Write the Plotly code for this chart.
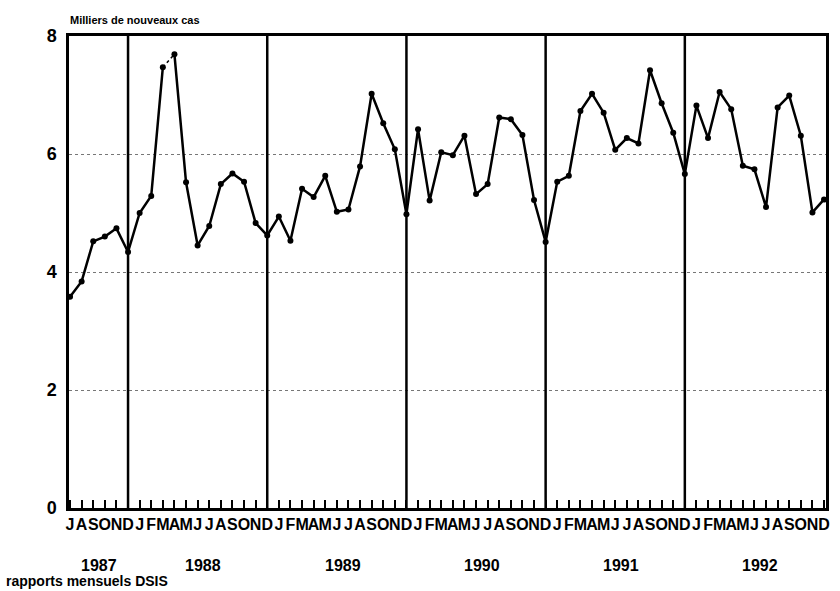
import plotly.graph_objects as go

# Nouveaux cas mensuels (milliers), juillet 1987 - decembre 1992
month_letters = ["J", "A", "S", "O", "N", "D"] + \
    ["J", "F", "M", "A", "M", "J", "J", "A", "S", "O", "N", "D"] * 5
years = [1987] * 6 + [1988] * 12 + [1989] * 12 + [1990] * 12 + [1991] * 12 + [1992] * 12

cases = [
    3.58, 3.84, 4.52, 4.60, 4.74, 4.34,                                   # 1987
    5.00, 5.29, 7.47, 7.69, 5.52, 4.45, 4.78, 5.49, 5.67, 5.53, 4.83, 4.62,  # 1988
    4.94, 4.53, 5.41, 5.27, 5.63, 5.02, 5.06, 5.79, 7.02, 6.52, 6.08, 4.98,  # 1989
    6.42, 5.21, 6.03, 5.98, 6.31, 5.32, 5.49, 6.62, 6.59, 6.32, 5.22, 4.51,  # 1990
    5.53, 5.63, 6.73, 7.02, 6.70, 6.07, 6.27, 6.18, 7.42, 6.86, 6.36, 5.66,  # 1991
    6.82, 6.27, 7.05, 6.76, 5.80, 5.74, 5.10, 6.79, 6.99, 6.31, 5.01, 5.23,  # 1992
]

year_labels = ["1987", "1988", "1989", "1990", "1991", "1992"]
y_ticks = [0, 2, 4, 6, 8]

idx = list(range(len(cases)))
dashed_from = 8  # segment mars-avril 1988 en pointille

# zone du graphe en pixels (pour placer les textes hors du graphe)
L, T, W, H = 69, 36, 757, 472


def px_to_paper(x, y):
    return (x - L) / W, (T + H - y) / H


fig = go.Figure()

line_style = dict(color="black", width=2.5)
marker_style = dict(color="black", size=6, symbol="circle")

fig.add_trace(go.Scatter(x=idx[:dashed_from + 1], y=cases[:dashed_from + 1],
                         mode="lines+markers", line=line_style, marker=marker_style,
                         showlegend=False))
fig.add_trace(go.Scatter(x=idx[dashed_from:dashed_from + 2], y=cases[dashed_from:dashed_from + 2],
                         mode="lines", line=dict(color="black", width=1.5, dash="dot"),
                         showlegend=False))
fig.add_trace(go.Scatter(x=idx[dashed_from + 1:], y=cases[dashed_from + 1:],
                         mode="lines+markers", line=line_style, marker=marker_style,
                         showlegend=False))

# traits verticaux en fin d'annee (decembre)
for i, m in enumerate(month_letters):
    if m == "D" and i < len(cases) - 1:
        fig.add_shape(type="line", x0=i, x1=i, y0=0, y1=1, xref="x", yref="paper",
                      line=dict(color="black", width=2.5))

# annees sous l'axe
_, y_year = px_to_paper(0, 565)
for yl in year_labels:
    pos = [i for i, y in enumerate(years) if str(y) == yl]
    fig.add_annotation(x=sum(pos) / len(pos), y=y_year, xref="x", yref="paper",
                       text=yl, showarrow=False, yanchor="middle",
                       font=dict(family="Liberation Sans", size=16, color="black", weight="bold"))

tx, ty = px_to_paper(68, 20)
fig.add_annotation(x=tx, y=ty, xref="paper", yref="paper", text="Milliers de nouveaux cas",
                   showarrow=False, xanchor="left", yanchor="middle",
                   font=dict(family="Liberation Sans", size=11, color="black", weight="bold"))
sx, sy = px_to_paper(4, 581)
fig.add_annotation(x=sx, y=sy, xref="paper", yref="paper", text="rapports mensuels DSIS",
                   showarrow=False, xanchor="left", yanchor="middle",
                   font=dict(family="Liberation Sans", size=14, color="black", weight="bold"))

fig.update_xaxes(
    range=[-0.09, 65.17],
    tickmode="array", tickvals=idx, ticktext=month_letters,
    ticks="inside", ticklen=8, tickwidth=1.5, tickcolor="black",
    tickangle=0,
    tickfont=dict(family="Liberation Sans", size=16, color="black", weight="bold"),
    showline=True, linewidth=2.5, linecolor="black", mirror=True,
    showgrid=False, zeroline=False, automargin=False,
)
fig.update_yaxes(
    range=[0, 8],
    tickmode="array", tickvals=y_ticks, ticktext=[str(v) for v in y_ticks],
    ticks="", ticklabelstandoff=6,
    tickfont=dict(family="Liberation Sans", size=18, color="black", weight="bold"),
    showline=True, linewidth=2.5, linecolor="black", mirror=True,
    showgrid=True, gridcolor="#777777", gridwidth=1, griddash="dot",
    zeroline=False, automargin=False,
)

fig.update_layout(
    width=840, height=591,
    margin=dict(l=L, r=840 - L - W, t=T, b=591 - T - H),
    plot_bgcolor="white", paper_bgcolor="white",
)

fig.write_html("out.html", config={"displayModeBar": False},
               post_script="document.body.style.margin='0';")
